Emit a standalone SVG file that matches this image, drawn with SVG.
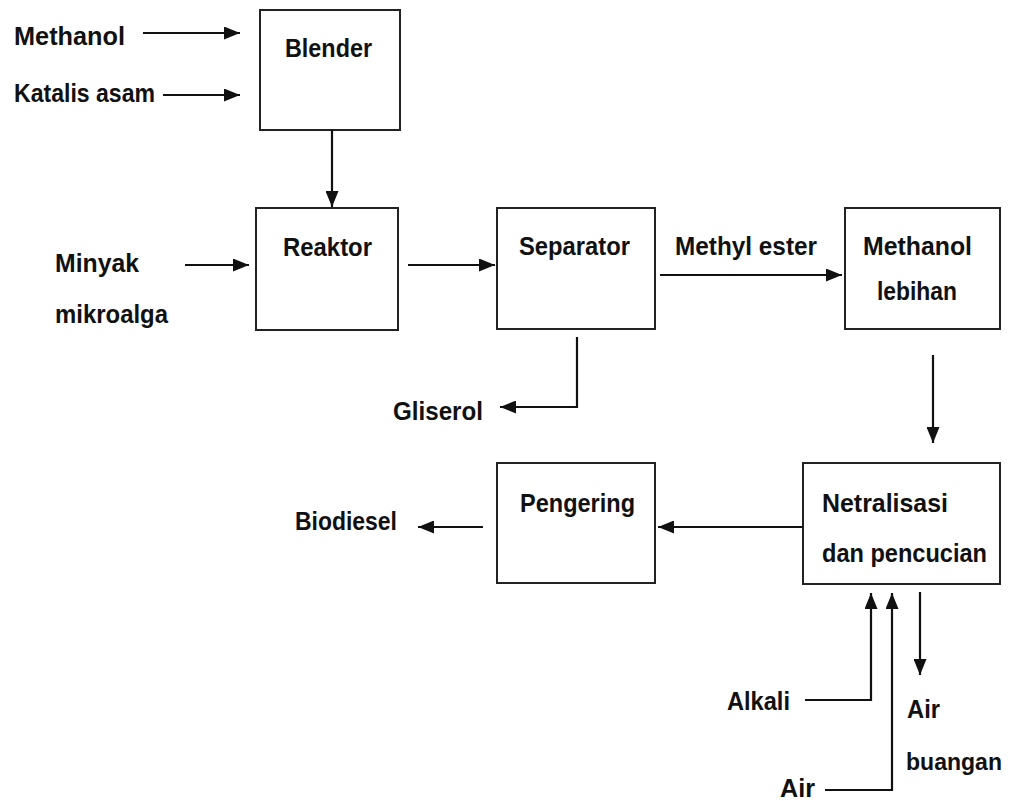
<svg xmlns="http://www.w3.org/2000/svg" width="1011" height="801" viewBox="0 0 1011 801">
<defs>
<style>
.box{fill:#fff;stroke:#222;stroke-width:2}
.t{font-family:"Liberation Sans",Arial,sans-serif;font-weight:bold;font-size:26px;fill:#111}
.c{fill:none;stroke:#111;stroke-width:2.2;marker-end:url(#ah)}
</style>
<marker id="ah" viewBox="0 0 16 13" markerWidth="16" markerHeight="13" markerUnits="userSpaceOnUse" refX="16" refY="6.5" orient="auto">
<path d="M0,0 L16,6.5 L0,13 z" fill="#111"/>
</marker>
</defs>
<rect width="1011" height="801" fill="#fff"/>
<g id="blender"><rect class="box" x="260" y="10" width="140" height="120"/><text class="t" x="285" y="57" textLength="87" lengthAdjust="spacingAndGlyphs">Blender</text></g>
<g id="reaktor"><rect class="box" x="256" y="208" width="142" height="122"/><text class="t" x="283" y="256" textLength="89" lengthAdjust="spacingAndGlyphs">Reaktor</text></g>
<g id="separator"><rect class="box" x="497" y="208" width="158" height="121"/><text class="t" x="519" y="255" textLength="111" lengthAdjust="spacingAndGlyphs">Separator</text></g>
<g id="methanol-lebihan"><rect class="box" x="845" y="208" width="155" height="121"/><text class="t" x="863" y="255" textLength="109" lengthAdjust="spacingAndGlyphs">Methanol</text><text class="t" x="877" y="300" textLength="80" lengthAdjust="spacingAndGlyphs">lebihan</text></g>
<g id="netralisasi"><rect class="box" x="803" y="463" width="197" height="121"/><text class="t" x="822" y="512" textLength="126" lengthAdjust="spacingAndGlyphs">Netralisasi</text><text class="t" x="822" y="562" textLength="165" lengthAdjust="spacingAndGlyphs">dan pencucian</text></g>
<g id="pengering"><rect class="box" x="497" y="463" width="158" height="120"/><text class="t" x="520" y="512" textLength="115" lengthAdjust="spacingAndGlyphs">Pengering</text></g>
<g id="labels">
<text class="t" x="14" y="45" textLength="111" lengthAdjust="spacingAndGlyphs">Methanol</text>
<text class="t" x="14" y="102" textLength="141" lengthAdjust="spacingAndGlyphs">Katalis asam</text>
<text class="t" x="55" y="272" textLength="84" lengthAdjust="spacingAndGlyphs">Minyak</text>
<text class="t" x="55" y="323" textLength="113" lengthAdjust="spacingAndGlyphs">mikroalga</text>
<text class="t" x="675" y="255" textLength="142" lengthAdjust="spacingAndGlyphs">Methyl ester</text>
<text class="t" x="393" y="420" textLength="90" lengthAdjust="spacingAndGlyphs">Gliserol</text>
<text class="t" x="295" y="530" textLength="102" lengthAdjust="spacingAndGlyphs">Biodiesel</text>
<text class="t" x="727" y="710" textLength="63" lengthAdjust="spacingAndGlyphs">Alkali</text>
<text class="t" x="780" y="797" textLength="35" lengthAdjust="spacingAndGlyphs">Air</text>
<text class="t" x="907" y="718" textLength="33" lengthAdjust="spacingAndGlyphs">Air</text>
<text class="t" x="906" y="770" style="font-size:24px" textLength="96" lengthAdjust="spacingAndGlyphs">buangan</text>
</g>
<g id="connectors">
<path class="c" d="M143,33 H240"/>
<path class="c" d="M163,95 H240"/>
<path class="c" d="M332,130 V207"/>
<path class="c" d="M185,265 H249"/>
<path class="c" d="M408,265 H495"/>
<path class="c" d="M660,275 H842"/>
<path class="c" d="M577,337 V407 H500"/>
<path class="c" d="M933,355 V443"/>
<path class="c" d="M803,527 H658"/>
<path class="c" d="M483,527 H418"/>
<path class="c" d="M805,700 H871 V593"/>
<path class="c" d="M825,790 H892 V593"/>
<path class="c" d="M920,592 V675"/>
</g>
</svg>
